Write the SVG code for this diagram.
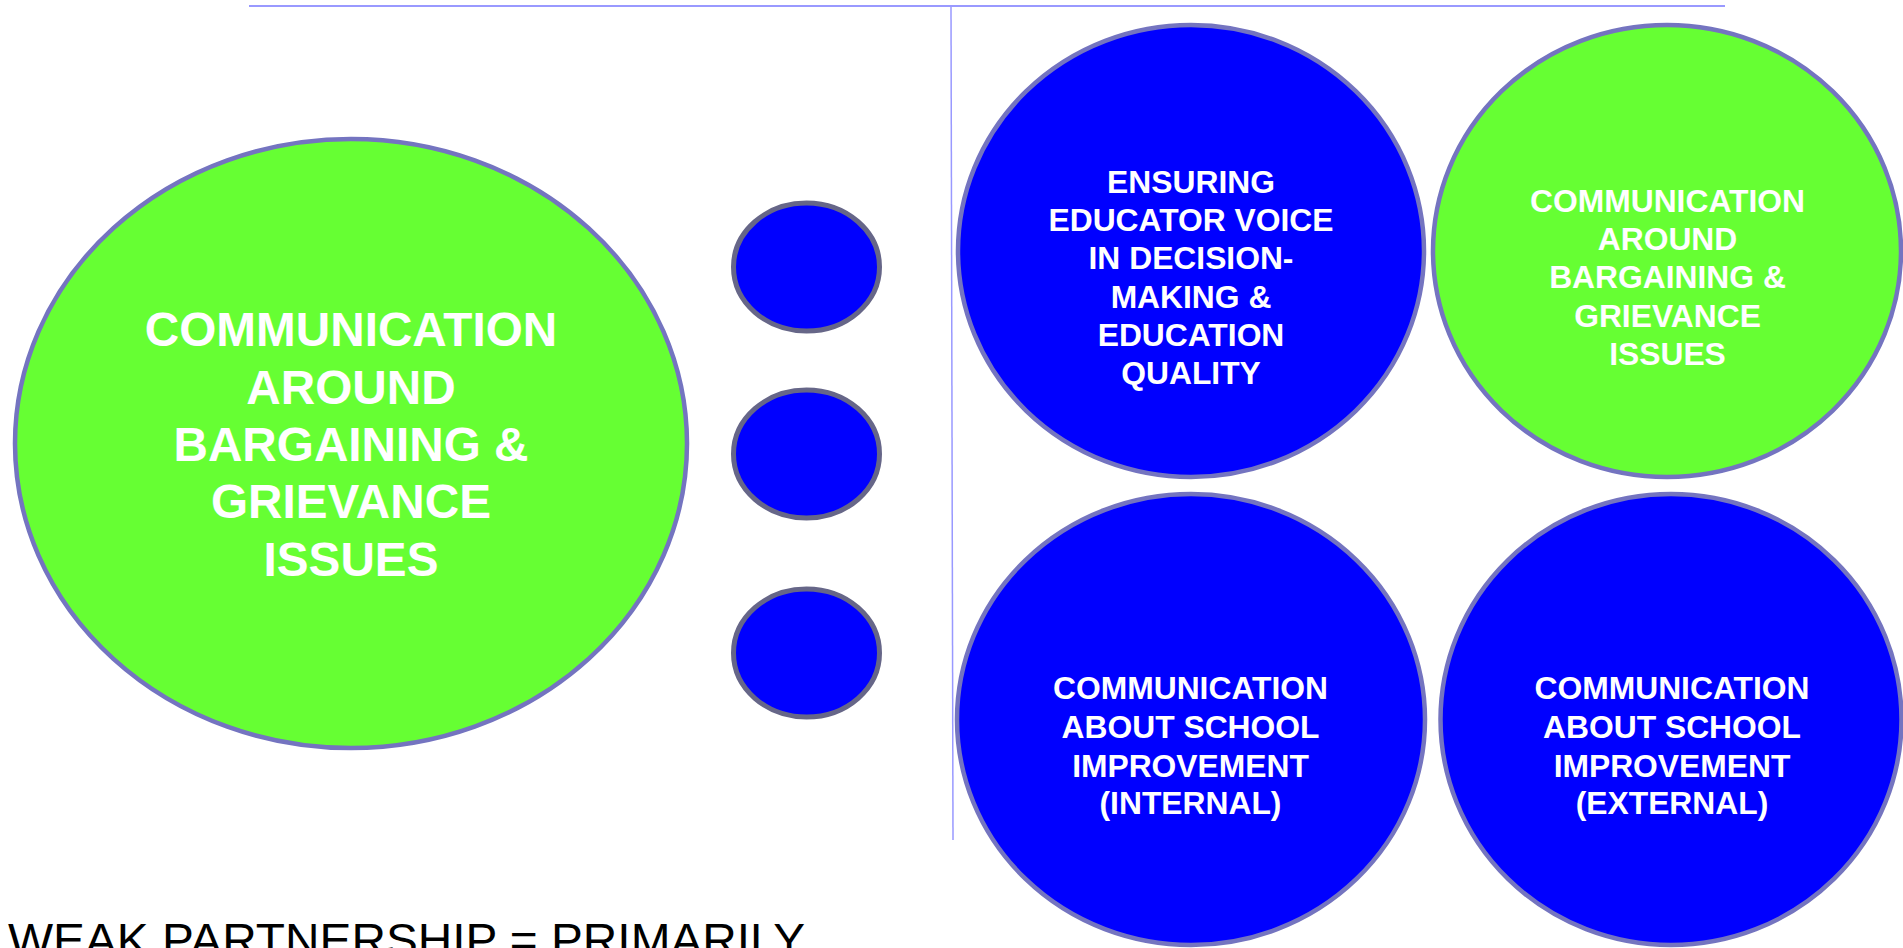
<svg xmlns="http://www.w3.org/2000/svg" width="1903" height="948" viewBox="0 0 1903 948">
<style>
.big{stroke:#7474c0;stroke-width:4.5}
.green{fill:#66ff33}
.blue{fill:#0000ff}
.dot{fill:#0000ff;stroke:#666688;stroke-width:5}
.lbl{font-family:"Liberation Sans",Arial,sans-serif;font-weight:bold;fill:#ffffff;text-anchor:middle}
.s31{font-size:31.8px}
.s47{font-size:47.7px}
.rule{stroke:#9999ff;fill:none}
</style>
<rect x="0" y="0" width="1903" height="948" fill="#ffffff"/>
<g id="connectors">
<line class="rule" x1="249" y1="6" x2="1725" y2="6" stroke-width="2"/>
<line class="rule" x1="951" y1="6" x2="953" y2="840" stroke-width="1.5"/>
</g>
<g id="node-main">
<ellipse class="big green" cx="351" cy="443.5" rx="336" ry="304.5"/>
<text class="lbl s47" x="351"><tspan x="351" y="346">COMMUNICATION</tspan><tspan x="351" y="404">AROUND</tspan><tspan x="351" y="461">BARGAINING &amp;</tspan><tspan x="351" y="518">GRIEVANCE</tspan><tspan x="351" y="576">ISSUES</tspan></text>
</g>
<g id="dot-1"><ellipse class="dot" cx="806.5" cy="267" rx="73" ry="64"/></g>
<g id="dot-2"><ellipse class="dot" cx="806.5" cy="454" rx="73" ry="64"/></g>
<g id="dot-3"><ellipse class="dot" cx="806.5" cy="653" rx="73" ry="64"/></g>
<g id="node-voice">
<ellipse class="big blue" cx="1191" cy="251" rx="233" ry="226"/>
<text class="lbl s31"><tspan x="1191" y="192.7">ENSURING</tspan><tspan x="1191" y="231">EDUCATOR VOICE</tspan><tspan x="1191" y="269.3">IN DECISION-</tspan><tspan x="1191" y="307.7">MAKING &amp;</tspan><tspan x="1191" y="346">EDUCATION</tspan><tspan x="1191" y="384.3">QUALITY</tspan></text>
</g>
<g id="node-bargaining">
<ellipse class="big green" cx="1667" cy="251" rx="234" ry="226"/>
<text class="lbl s31"><tspan x="1667.5" y="211.7">COMMUNICATION</tspan><tspan x="1667.5" y="250">AROUND</tspan><tspan x="1667.5" y="288.3">BARGAINING &amp;</tspan><tspan x="1667.5" y="326.7">GRIEVANCE</tspan><tspan x="1667.5" y="365">ISSUES</tspan></text>
</g>
<g id="node-internal">
<ellipse class="big blue" cx="1191" cy="719.5" rx="234" ry="225.5"/>
<text class="lbl s31"><tspan x="1190.5" y="699.3">COMMUNICATION</tspan><tspan x="1190.5" y="738.3">ABOUT SCHOOL</tspan><tspan x="1190.5" y="776.7">IMPROVEMENT</tspan><tspan x="1190.5" y="814.3">(INTERNAL)</tspan></text>
</g>
<g id="node-external">
<ellipse class="big blue" cx="1671" cy="719.5" rx="230.5" ry="225.5"/>
<text class="lbl s31"><tspan x="1672" y="699.3">COMMUNICATION</tspan><tspan x="1672" y="738.3">ABOUT SCHOOL</tspan><tspan x="1672" y="776.7">IMPROVEMENT</tspan><tspan x="1672" y="814.3">(EXTERNAL)</tspan></text>
</g>
<g id="caption">
<text x="8" y="956" font-family="'Liberation Sans',Arial,sans-serif" font-size="47" fill="#000000" textLength="797" lengthAdjust="spacingAndGlyphs">WEAK PARTNERSHIP = PRIMARILY</text>
</g>
</svg>
